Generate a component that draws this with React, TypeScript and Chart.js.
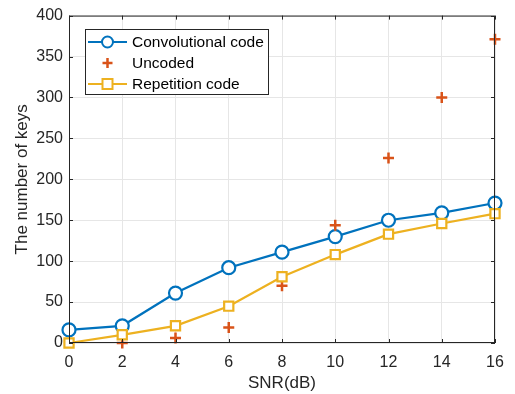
import React, { useEffect, useRef } from "react";
import { Chart, registerables } from "chart.js";

Chart.register(...registerables);

const snr = [0, 2, 4, 6, 8, 10, 12, 14, 16];
const convolutional = [16, 21, 61, 92, 111, 130, 150, 159, 171];
const uncoded = [null, 0, 6, 19, 70, 144, 226, 300, 371];
const repetition = [0, 10, 21, 45, 81, 108, 133, 146, 158];
const yTicks = [0, 50, 100, 150, 200, 250, 300, 350, 400];

const FONT = "'Liberation Sans', Arial, Helvetica, sans-serif";
const AXIS = "#262626";

const boxPlugin = {
  id: "matlabBox",
  afterDraw(chart: any) {
    const { ctx, chartArea: a, scales } = chart;
    ctx.save();
    ctx.strokeStyle = AXIS;
    ctx.lineWidth = 1;
    ctx.strokeRect(a.left + 0.5, a.top + 0.5, a.right - a.left - 1, a.bottom - a.top - 1);
    ctx.beginPath();
    const tl = 4;
    snr.forEach((v) => {
      const x = Math.round(scales.x.getPixelForValue(v)) + 0.5;
      ctx.moveTo(x, a.bottom);
      ctx.lineTo(x, a.bottom - tl);
      ctx.moveTo(x, a.top);
      ctx.lineTo(x, a.top + tl);
    });
    yTicks.forEach((v) => {
      const y = Math.round(scales.y.getPixelForValue(v)) + 0.5;
      ctx.moveTo(a.left, y);
      ctx.lineTo(a.left + tl, y);
      ctx.moveTo(a.right, y);
      ctx.lineTo(a.right - tl, y);
    });
    ctx.stroke();

    // legend
    const lx = 85, ly = 29, lw = 183, lh = 65;
    ctx.fillStyle = "#ffffff";
    ctx.fillRect(lx, ly, lw, lh);
    ctx.strokeStyle = AXIS;
    ctx.strokeRect(lx + 0.5, ly + 0.5, lw, lh);
    const rows = [42, 63, 84];
    chart.data.datasets.forEach((ds: any, i: number) => {
      const y = rows[i];
      const x0 = lx + 3, x1 = lx + 42, xm = (x0 + x1) / 2;
      ctx.strokeStyle = ds.borderColor;
      ctx.lineWidth = 2;
      if (ds.showLine !== false) {
        ctx.beginPath();
        ctx.moveTo(x0, y);
        ctx.lineTo(x1, y);
        ctx.stroke();
      }
      ctx.beginPath();
      if (ds.pointStyle === "circle") {
        ctx.fillStyle = "#fff";
        ctx.arc(xm, y, 5.5, 0, Math.PI * 2);
        ctx.fill();
        ctx.stroke();
      } else if (ds.pointStyle === "rect") {
        ctx.fillStyle = "#fff";
        ctx.rect(xm - 5, y - 5, 10, 10);
        ctx.fill();
        ctx.stroke();
      } else {
        ctx.lineWidth = 2.5;
        ctx.moveTo(xm - 5, y);
        ctx.lineTo(xm + 5, y);
        ctx.moveTo(xm, y - 5);
        ctx.lineTo(xm, y + 5);
        ctx.stroke();
      }
      ctx.fillStyle = "#000";
      ctx.font = `15.5px ${FONT}`;
      ctx.textAlign = "left";
      ctx.textBaseline = "middle";
      ctx.fillText(ds.label, lx + 47, y + 1);
    });
    ctx.restore();
  },
};

export default function App() {
  const ref = useRef<HTMLCanvasElement>(null);
  useEffect(() => {
    if (!ref.current) return;
    const chart = new Chart(ref.current, {
      type: "line",
      data: {
        datasets: [
          {
            label: "Convolutional code",
            data: snr.map((x, i) => ({ x, y: convolutional[i] })),
            borderColor: "#0072BD",
            backgroundColor: "#ffffff",
            borderWidth: 2.2,
            pointStyle: "circle",
            pointRadius: 6.5,
            pointBorderWidth: 2.2,
            pointBackgroundColor: "#ffffff",
            clip: false,
            order: 3,
          },
          {
            label: "Uncoded",
            data: snr.map((x, i) => ({ x, y: uncoded[i] as any })),
            borderColor: "#D95319",
            backgroundColor: "#D95319",
            showLine: false,
            borderWidth: 2.5,
            pointStyle: "cross",
            pointRadius: 5.5,
            pointBorderWidth: 2.5,
            clip: false,
            order: 2,
          },
          {
            label: "Repetition code",
            data: snr.map((x, i) => ({ x, y: repetition[i] })),
            borderColor: "#EDB120",
            backgroundColor: "#ffffff",
            borderWidth: 2.2,
            pointStyle: "rect",
            pointRadius: 6.5,
            pointBorderWidth: 2.2,
            pointBackgroundColor: "#ffffff",
            clip: false,
            order: 1,
          },
        ],
      },
      options: {
        animation: false,
        responsive: false,
        maintainAspectRatio: false,
        layout: { padding: { top: 11, right: 20, left: 0, bottom: 0 } },
        plugins: { legend: { display: false }, tooltip: { enabled: false } },
        scales: {
          x: {
            type: "linear",
            min: 0,
            max: 16,
            afterBuildTicks: (s: any) => {
              s.ticks = snr.map((v) => ({ value: v }));
            },
            afterFit: (s: any) => {
              s.height = 51;
            },
            grid: { color: "#e6e6e6", drawTicks: false },
            border: { display: false },
            ticks: { color: AXIS, font: { family: FONT, size: 16 }, padding: 10, maxRotation: 0 },
            title: {
              display: true,
              text: "SNR(dB)",
              color: AXIS,
              font: { family: FONT, size: 17 },
              padding: { top: 2, bottom: 0 },
            },
          },
          y: {
            type: "linear",
            min: 0,
            max: 400,
            afterBuildTicks: (s: any) => {
              s.ticks = yTicks.map((v) => ({ value: v }));
            },
            afterFit: (s: any) => {
              s.width = 69;
            },
            grid: { color: "#e6e6e6", drawTicks: false },
            border: { display: false },
            ticks: { color: AXIS, font: { family: FONT, size: 16 }, padding: 6 },
            title: {
              display: true,
              text: "The number of keys",
              color: AXIS,
              font: { family: FONT, size: 17 },
              padding: { top: 12, bottom: 0 },
            },
          },
        },
      },
      plugins: [boxPlugin],
    });
    return () => chart.destroy();
  }, []);
  return (
    <div style={{ position: "fixed", left: 0, top: 0, width: 515, height: 394, background: "#fff" }}>
      <canvas ref={ref} width={515} height={394} style={{ width: 515, height: 394 }} />
    </div>
  );
}
